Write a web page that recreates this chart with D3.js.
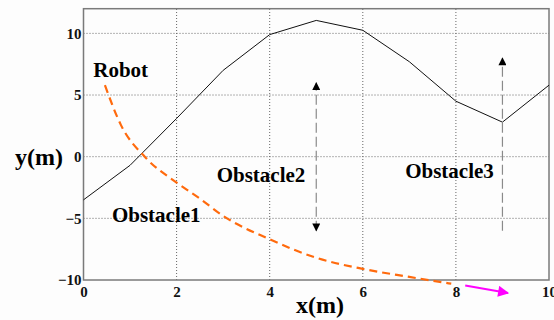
<!DOCTYPE html>
<html>
<head>
<meta charset="utf-8">
<script src="https://cdn.jsdelivr.net/npm/d3@7"></script>
<style>
  html, body { margin: 0; padding: 0; background: #fdfdfd; }
  svg { display: block; }
  text { font-family: "Liberation Serif", "Times New Roman", serif; font-weight: bold; }
</style>
</head>
<body>
<svg id="chart" width="554" height="320"></svg>
<script>
// Obstacle boundary (solid black polyline)
const obstacleX = [0, 1, 2, 3, 4, 5, 6, 7, 8, 9, 10];
const obstacleY = [-3.5, -0.7, 3.1, 7.0, 9.9, 11.05, 10.25, 7.7, 4.5, 2.8, 5.8];

// Robot trajectory (orange dashed)
const robotX = [0.46, 0.8, 1.34, 2.0, 2.5, 3.0, 4.0, 5.0, 6.0, 7.0, 7.9];
const robotY = [5.8, 2.6, -0.1, -2.1, -3.4, -4.8, -6.7, -8.2, -9.1, -9.75, -10.3];

// Heading arrow at the end of the trajectory (magenta)
const headingX = [8.2, 9.12];
const headingY = [-10.44, -11.05];

// Obstacle motion arrows: x position, start y, end y, double-headed?
const motionX = [5, 9];
const motionY0 = [-6, -6];
const motionY1 = [6, 8];
const motionBoth = [true, false];

// Text annotations
const labelText = ["Robot", "Obstacle1", "Obstacle2", "Obstacle3"];
const labelX = [0.21, 0.61, 2.86, 6.91];
const labelY = [6.49, -5.3, -2.03, -1.7];

// Axis ticks
const xTicks = [0, 2, 4, 6, 8, 10];
const yTicks = [-10, -5, 0, 5, 10];

const svg = d3.select("#chart");

const x = d3.scaleLinear().domain([0, 10]).range([83.5, 549]);
const y = d3.scaleLinear().domain([-10, 12]).range([280, 8.7]);

// Dotted grid
const grid = svg.append("g").attr("stroke", "#666").attr("stroke-width", 1)
  .attr("stroke-dasharray", "1,2").attr("fill", "none");
grid.selectAll("line.gx").data(xTicks.filter(d => d > 0 && d < 10)).join("line")
  .attr("x1", d => x(d)).attr("x2", d => x(d)).attr("y1", y(-10)).attr("y2", y(12));
grid.selectAll("line.gy").data(yTicks.filter(d => d > -10)).join("line")
  .attr("x1", x(0)).attr("x2", x(10)).attr("y1", d => y(d)).attr("y2", d => y(d));

// Frame
svg.append("rect")
  .attr("x", x(0)).attr("y", y(12))
  .attr("width", x(10) - x(0)).attr("height", y(-10) - y(12))
  .attr("fill", "none").attr("stroke", "#7a7a7a").attr("stroke-width", 1.5);

// Axes (labels only)
const xAxis = svg.append("g").attr("transform", `translate(0,${y(-10)})`)
  .call(d3.axisBottom(x).tickValues(xTicks).tickSize(0).tickPadding(6));
const yAxis = svg.append("g").attr("transform", `translate(${x(0)},0)`)
  .call(d3.axisLeft(y).tickValues(yTicks).tickSize(0).tickPadding(2));
[xAxis, yAxis].forEach(g => {
  g.select(".domain").remove();
  g.selectAll("text").attr("font-size", 15).attr("font-family", "Liberation Serif")
    .attr("font-weight", "bold").attr("fill", "#111");
});

// Obstacle boundary
const line = d3.line().x(d => x(d[0])).y(d => y(d[1]));
svg.append("path")
  .datum(obstacleX.map((v, i) => [v, obstacleY[i]]))
  .attr("d", line).attr("fill", "none").attr("stroke", "#111").attr("stroke-width", 1);

// Arrowhead markers
const defs = svg.append("defs");
function marker(id, color, w, h) {
  defs.append("marker").attr("id", id)
    .attr("viewBox", "0 0 10 10").attr("refX", 9).attr("refY", 5)
    .attr("markerWidth", w).attr("markerHeight", h)
    .attr("markerUnits", "userSpaceOnUse").attr("orient", "auto-start-reverse")
    .append("path").attr("d", "M0,0 L10,5 L0,10 z").attr("fill", color);
}
marker("blackHead", "#000", 9, 8);
marker("magentaHead", "#ff00ff", 13, 11);

// Obstacle motion arrows
motionX.forEach((mx, i) => {
  svg.append("line")
    .attr("x1", x(mx)).attr("x2", x(mx))
    .attr("y1", y(motionY0[i])).attr("y2", y(motionY1[i]))
    .attr("stroke", "#8a8a8a").attr("stroke-width", 1.2)
    .attr("stroke-dasharray", "10,4")
    .attr("marker-end", "url(#blackHead)")
    .attr("marker-start", motionBoth[i] ? "url(#blackHead)" : null);
});

// Robot trajectory
svg.append("path")
  .datum(robotX.map((v, i) => [v, robotY[i]]))
  .attr("d", d3.line().x(d => x(d[0])).y(d => y(d[1])).curve(d3.curveMonotoneX))
  .attr("fill", "none").attr("stroke", "#ff6a0d").attr("stroke-width", 2.2)
  .attr("stroke-dasharray", "8,5");

// Heading arrow
svg.append("line")
  .attr("x1", x(headingX[0])).attr("y1", y(headingY[0]))
  .attr("x2", x(headingX[1])).attr("y2", y(headingY[1]))
  .attr("stroke", "#ff00ff").attr("stroke-width", 2)
  .attr("marker-end", "url(#magentaHead)");

// Annotations
svg.selectAll("text.lab").data(labelText).join("text").attr("class", "lab")
  .attr("x", (d, i) => x(labelX[i])).attr("y", (d, i) => y(labelY[i]))
  .attr("font-size", 21).attr("fill", "#000").text(d => d);

// Axis titles
svg.append("text").attr("x", 15).attr("y", 165).attr("font-size", 24).text("y(m)");
svg.append("text").attr("x", 296).attr("y", 313).attr("font-size", 24).text("x(m)");
</script>
</body>
</html>
